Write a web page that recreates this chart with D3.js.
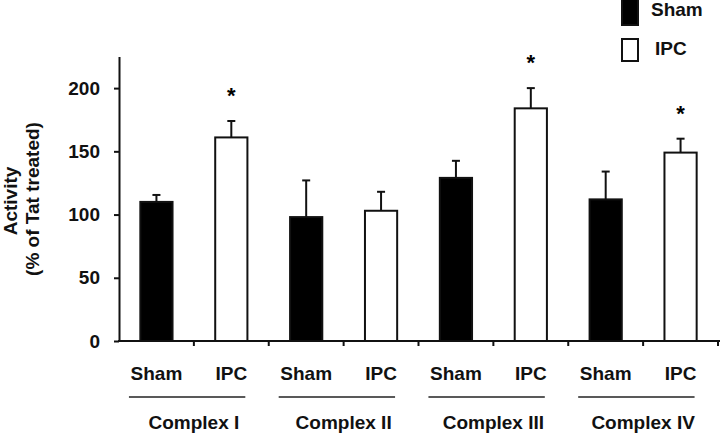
<!DOCTYPE html>
<html>
<head>
<meta charset="utf-8">
<script src="https://cdn.jsdelivr.net/npm/d3@7"></script>
<style>
  html, body { margin: 0; padding: 0; background: #fff; }
  svg { display: block; font-family: "Liberation Sans", Arial, sans-serif; font-weight: bold; }
</style>
</head>
<body>
<div id="chart"></div>
<script>
const complexes = ['Complex I', 'Complex II', 'Complex III', 'Complex IV']
const groups = ['Sham', 'IPC']
const groupFill = ['#000', '#fff']
const means = {
  Sham: [110, 98, 129, 112],
  IPC: [161, 103, 184, 149]
}
const errors = {
  Sham: [5.5, 29, 13.5, 22],
  IPC: [13, 15, 16, 11]
}
const signif = {
  Sham: [false, false, false, false],
  IPC: [true, false, true, true]
}
const yTicks = [0, 50, 100, 150, 200]

const width = 720
const height = 434
const fs = 19

const bars = []
complexes.forEach((c, i) => {
  groups.forEach(g => {
    bars.push({ key: c + '|' + g, complex: c, group: g, value: means[g][i], err: errors[g][i], star: signif[g][i] })
  })
})

const svg = d3.select('#chart').append('svg')
  .attr('width', width)
  .attr('height', height)

const x = d3.scaleBand().domain(bars.map(d => d.key)).range([119, 718])
const y = d3.scaleLinear().domain([0, 225]).range([341, 56.5])
const fill = d3.scaleOrdinal().domain(groups).range(groupFill)

const bw = x.bandwidth() * 0.43
const mid = d => x(d.key) + x.bandwidth() / 2

// bars
svg.append('g')
  .selectAll('rect')
  .data(bars)
  .enter().append('rect')
  .attr('x', d => mid(d) - bw / 2)
  .attr('y', d => y(d.value))
  .attr('width', bw)
  .attr('height', d => y(0) - y(d.value))
  .attr('fill', d => fill(d.group))
  .attr('stroke', '#111')
  .attr('stroke-width', 2)

// error bars (upper only)
const eb = svg.append('g').attr('stroke', '#111').attr('stroke-width', 2)
eb.selectAll('line.v')
  .data(bars)
  .enter().append('line')
  .attr('class', 'v')
  .attr('x1', mid)
  .attr('x2', mid)
  .attr('y1', d => y(d.value))
  .attr('y2', d => y(d.value + d.err))
eb.selectAll('line.c')
  .data(bars)
  .enter().append('line')
  .attr('class', 'c')
  .attr('x1', d => mid(d) - 4)
  .attr('x2', d => mid(d) + 4)
  .attr('y1', d => y(d.value + d.err))
  .attr('y2', d => y(d.value + d.err))

// significance stars
svg.append('g')
  .selectAll('text')
  .data(bars.filter(d => d.star))
  .enter().append('text')
  .attr('x', mid)
  .attr('y', d => y(d.value + d.err) - 18)
  .attr('text-anchor', 'middle')
  .attr('font-size', 22)
  .text('*')

// y axis
const yAxis = svg.append('g')
  .attr('transform', 'translate(119,0)')
  .call(d3.axisLeft(y).tickValues(yTicks).tickSize(5).tickPadding(14).tickSizeOuter(0))
yAxis.select('.domain').attr('stroke', '#111').attr('stroke-width', 2)
yAxis.selectAll('.tick line').attr('stroke', '#111').attr('stroke-width', 2)
yAxis.selectAll('.tick text')
  .attr('font-size', fs)
  .attr('font-family', '"Liberation Sans", Arial, sans-serif')
  .attr('font-weight', 'bold')
  .attr('fill', '#111')

// x axis: baseline with ticks at band boundaries
const xAxis = svg.append('g')
xAxis.append('line')
  .attr('x1', 118).attr('x2', 720)
  .attr('y1', y(0)).attr('y2', y(0))
  .attr('stroke', '#111').attr('stroke-width', 2)
xAxis.selectAll('line.tk')
  .data(bars.slice(1).concat([null]))
  .enter().append('line')
  .attr('class', 'tk')
  .attr('x1', d => d ? x(d.key) : x.range()[1])
  .attr('x2', d => d ? x(d.key) : x.range()[1])
  .attr('y1', y(0))
  .attr('y2', y(0) + 5)
  .attr('stroke', '#111').attr('stroke-width', 2)

// group labels under the axis
svg.append('g')
  .selectAll('text')
  .data(bars)
  .enter().append('text')
  .attr('x', mid)
  .attr('y', 380)
  .attr('text-anchor', 'middle')
  .attr('font-size', fs)
  .attr('fill', '#111')
  .text(d => d.group)

const sham = c => bars.find(d => d.complex === c && d.group === 'Sham')
const ipc = c => bars.find(d => d.complex === c && d.group === 'IPC')
svg.append('g')
  .selectAll('line')
  .data(complexes)
  .enter().append('line')
  .attr('x1', c => mid(sham(c)) - 27.5)
  .attr('x2', c => mid(ipc(c)) + 14)
  .attr('y1', 397).attr('y2', 397)
  .attr('stroke', '#222').attr('stroke-width', 1.5)

svg.append('g')
  .selectAll('text')
  .data(complexes)
  .enter().append('text')
  .attr('x', c => x(ipc(c).key))
  .attr('y', 429)
  .attr('text-anchor', 'middle')
  .attr('font-size', fs)
  .attr('fill', '#111')
  .text(c => c)

// y title
const yt = svg.append('g').attr('font-size', fs).attr('fill', '#111')
yt.append('text')
  .attr('transform', 'translate(17,201) rotate(-90)')
  .attr('text-anchor', 'middle')
  .text('Activity')
yt.append('text')
  .attr('transform', 'translate(38.5,199) rotate(-90)')
  .attr('text-anchor', 'middle')
  .text('(% of Tat treated)')

// legend
const legend = svg.append('g')
  .selectAll('g')
  .data(groups)
  .enter().append('g')
  .attr('transform', (d, i) => `translate(622,${i === 0 ? -3 : 39})`)
legend.append('rect')
  .attr('width', 16)
  .attr('height', (d, i) => i === 0 ? 28 : 22)
  .attr('fill', d => fill(d))
  .attr('stroke', '#111')
  .attr('stroke-width', 2)
legend.append('text')
  .attr('x', (d, i) => i === 0 ? 29 : 33)
  .attr('y', (d, i) => i === 0 ? 19 : 16)
  .attr('font-size', fs)
  .attr('fill', '#111')
  .text(d => d)
</script>
</body>
</html>
